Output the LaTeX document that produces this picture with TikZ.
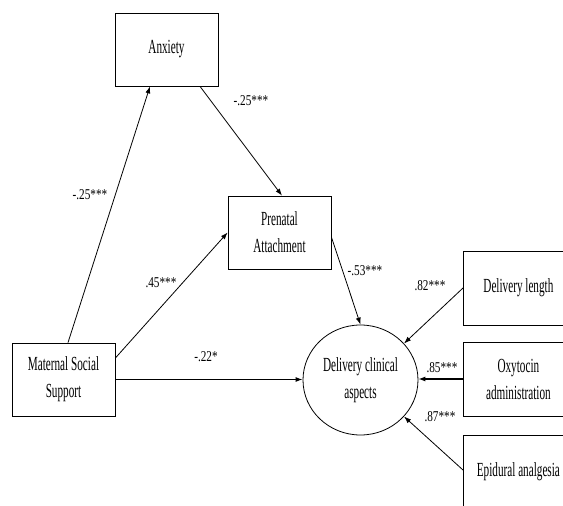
\documentclass[tikz,border=0pt]{standalone}
\usepackage{fontspec}
\setmainfont{Liberation Serif}
\newfontfamily\nodefont[FakeStretch=0.56]{Liberation Serif}
\newfontfamily\labfont[FakeStretch=0.75]{Liberation Serif}
\usetikzlibrary{arrows.meta,shapes.geometric}
\begin{document}
\begin{tikzpicture}[x=1pt,y=-1pt,
  box/.style={draw,line width=0.8pt,minimum width=103pt,minimum height=73pt,inner sep=0pt,align=center,
    font=\nodefont\fontsize{20}{27}\selectfont},
  ind/.style={box,minimum width=110pt,minimum height=74pt},
  lat/.style={draw,ellipse,line width=0.8pt,minimum width=115pt,minimum height=110pt,inner sep=0pt,align=center,
    font=\nodefont\fontsize{20}{27}\selectfont},
  arr/.style={line width=0.8pt,-{Latex[length=7pt,width=5pt]}},
  harr/.style={arr,line width=1.1pt},
  lab/.style={font=\labfont\fontsize{15}{17}\selectfont,inner sep=0pt}]
\clip (0,0) rectangle (563,506);
\fill[white] (0,0) rectangle (563,506);
% nodes
\node[box] (anx) at (166.5,49.5) {Anxiety};
\node[box] (pa) at (279.5,232.5) {Prenatal\\Attachment};
\node[box] (mss) at (63.5,379.5) {Maternal Social\\Support};
\node[lat] (dca) at (360.5,380) {Delivery clinical\\aspects};
\node[ind,anchor=west] (dl) at (463,288) {Delivery length};
\node[ind,anchor=west] (oa) at (463,379) {Oxytocin\\administration};
\node[ind,anchor=west] (ea) at (463,472) {Epidural analgesia};
% connectors
\draw[arr] ([xshift=4.5pt]mss.north) -- ([xshift=-16.5pt]anx.south);
\draw[arr] ([xshift=33.5pt]anx.south) -- ([xshift=2.5pt]pa.north);
\draw[arr] ([yshift=21.5pt]mss.east) -- (pa.west);
\draw[arr] ([yshift=-4.5pt]pa.east) -- (dca.north);
\draw[harr] (mss.east) -- (mss.east -| dca.west);
\draw[arr] (dl.west) -- (dca.40);
\draw[harr] (oa.west) -- (oa.west -| dca.east);
\draw[arr] ([yshift=2pt]ea.west) -- (dca.-40);
% labels
\node[lab] (l1) at (90,195) {-.25***};
\node[lab] (l2) at (251,101) {-.25***};
\node[lab] (l3) at (161,283) {.45***};
\node[lab] (l4) at (206,357) {-.22*};
\node[lab] (l5) at (365,271) {-.53***};
\node[lab] (l6) at (430,286) {.82***};
\node[lab] (l7) at (442,368) {.85***};
\node[lab] (l8) at (440,417) {.87***};
\end{tikzpicture}
\end{document}
